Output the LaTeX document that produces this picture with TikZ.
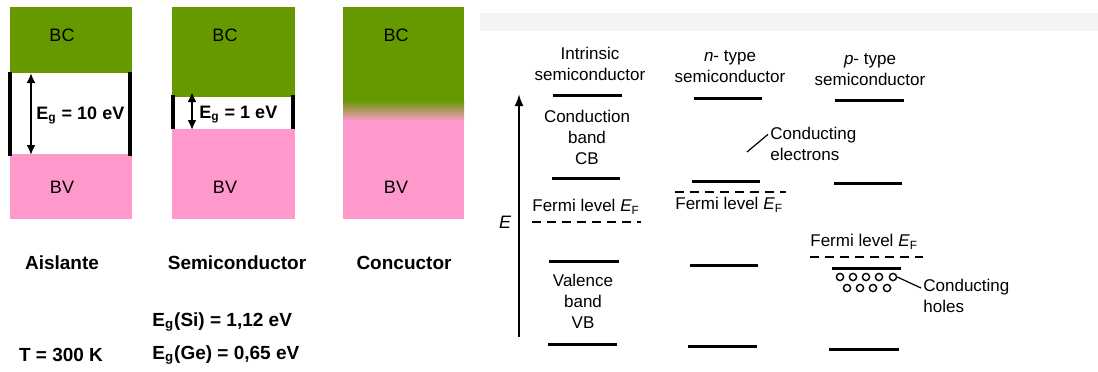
\documentclass[tikz,border=0pt]{standalone}
\usepackage{fontspec}
\setmainfont{Liberation Sans}
\usetikzlibrary{arrows.meta}
\definecolor{bandgreen}{RGB}{102,153,0}
\definecolor{bandpink}{RGB}{255,153,204}
\definecolor{scangray}{RGB}{244,244,244}

\begin{document}
\begin{tikzpicture}[x=0.5pt, y=-0.5pt,
    band/.style={font=\fontsize{9}{10}\selectfont, inner sep=0pt},
    kind/.style={font=\fontsize{9.5}{11}\selectfont\bfseries, inner sep=0pt},
    gaplbl/.style={font=\fontsize{9}{10}\selectfont\bfseries, anchor=west, inner sep=0pt},
    bar/.style={line width=1.6pt},
    gaparr/.style={{Latex[length=5pt,width=4.5pt]}-{Latex[length=5pt,width=4.5pt]}, line width=1.2pt},
    lbl/.style={font=\fontsize{8.5}{10.5}\selectfont, align=center, inner sep=1pt},
    level/.style={line width=1.5pt},
    fermi/.style={line width=1pt, dash pattern=on 4.5pt off 3pt},
    hole/.style={circle, draw, line width=0.7pt, minimum size=3.6pt, inner sep=0pt}
  ]
    \useasboundingbox (0,0) rectangle (1098,371);

    %% Aislante
    \fill[bandgreen] (10,7) rectangle (132,73);
    \fill[bandpink] (10,154) rectangle (132,219);
    \draw[bar] (10,72) -- (10,156);
    \draw[bar] (130,72) -- (130,156);
    \coordinate (g1t) at (31,73);
    \coordinate (g1b) at (31,155);
    \draw[gaparr] (g1t) -- (g1b);
    \node[gaplbl] (eg1) at (36,115) {E\textsubscript{g} = 10 eV};
    \node[band] (bc1) at (62,35) {BC};
    \node[band] (bv1) at (62,187) {BV};

    %% Semiconductor
    \fill[bandgreen] (172,7) rectangle (295,97);
    \fill[bandpink] (172,129) rectangle (295,219);
    \draw[bar] (173,95) -- (173,129);
    \draw[bar] (293,95) -- (293,129);
    \coordinate (g2t) at (192,92);
    \coordinate (g2b) at (192,130);
    \draw[gaparr] (g2t) -- (g2b);
    \node[gaplbl] (eg2) at (199,115) {E\textsubscript{g} = 1 eV};
    \node[band] (bc2) at (225,35) {BC};
    \node[band] (bv2) at (225,187) {BV};

    %% Conductor (bands overlap)
    \fill[bandgreen] (343,7) rectangle (464,101);
    \shade[top color=bandgreen, bottom color=bandpink] (343,100) rectangle (464,121);
    \fill[bandpink] (343,120) rectangle (464,219);
    \node[band] (bc3) at (396,35) {BC};
    \node[band] (bv3) at (396,187) {BV};

    %% Material names and gap values
    \node[kind] (ais) at (62,263) {Aislante};
    \node[kind] (semi) at (237,263) {Semiconductor};
    \node[kind] (cond) at (404,263) {Concuctor};
    \node[kind] (temp) at (61,355) {T = 300 K};
    \node[kind, anchor=west] (egsi) at (152,322) {E\textsubscript{g}(Si) = 1,12 eV};
    \node[kind, anchor=west] (egge) at (152,355) {E\textsubscript{g}(Ge) = 0,65 eV};

    %% Scanned figure
    \fill[scangray] (480,13) rectangle (1098,31);

    %% Energy axis
    \coordinate (ebot) at (519,337);
    \coordinate (etop) at (519,94);
    \draw[line width=1pt, -{Latex[length=6pt,width=4.5pt]}] (ebot) -- (etop);
    \node[lbl, font=\fontsize{9}{10}\selectfont\itshape] (elbl) at (505,222) {E};

    %% Column titles
    \node[lbl] (tint) at (590,64) {Intrinsic\\semiconductor};
    \node[lbl] (tn) at (730,67) {\textit{n}- type\\semiconductor};
    \node[lbl] (tp) at (870,70) {\textit{p}- type\\semiconductor};

    %% Intrinsic
    \draw[level] (553,95) -- (622,95);
    \draw[level] (552,178) -- (620,178);
    \draw[level] (549,261) -- (619,261);
    \draw[level] (548,344) -- (617,344);
    \node[lbl] (cb) at (587,137) {Conduction\\band\\CB};
    \node[lbl] (vb) at (583,301) {Valence\\band\\VB};
    \node[lbl, anchor=west] (fint) at (530,207) {Fermi level \textit{E}\textsubscript{F}};
    \draw[fermi] (532,222) -- (641,222);

    %% n-type
    \draw[level] (694,98) -- (762,98);
    \draw[level] (692,181) -- (760,181);
    \draw[level] (690,265) -- (758,265);
    \draw[level] (688,346) -- (757,346);
    \draw[fermi] (675,192) -- (786,192);
    \node[lbl, anchor=west] (fn) at (673,205) {Fermi level \textit{E}\textsubscript{F}};
    \node[lbl, anchor=west, align=left] (elec) at (768,144) {Conducting\\electrons};
    \coordinate (elecend) at (747,152);
    \draw[line width=0.6pt] (elecend) -- (elec.168);

    %% p-type
    \draw[level] (835,100) -- (904,100);
    \draw[level] (834,183) -- (902,183);
    \draw[level] (832,268) -- (901,268);
    \draw[level] (829,349) -- (899,349);
    \node[lbl, anchor=west] (fp) at (808,242) {Fermi level \textit{E}\textsubscript{F}};
    \draw[fermi] (810,257) -- (923,257);
    \foreach \i/\hx in {1/840,2/853,3/866,4/879,5/893}
      \node[hole] (h\i) at (\hx,277) {};
    \foreach \i/\hx in {6/847,7/860,8/873,9/887}
      \node[hole] (h\i) at (\hx,288) {};
    \node[lbl, anchor=west, align=left] (holes) at (921,296) {Conducting\\holes};
    \draw[line width=0.6pt] (h5.east) -- (holes.170);
  \end{tikzpicture}
\end{document}
